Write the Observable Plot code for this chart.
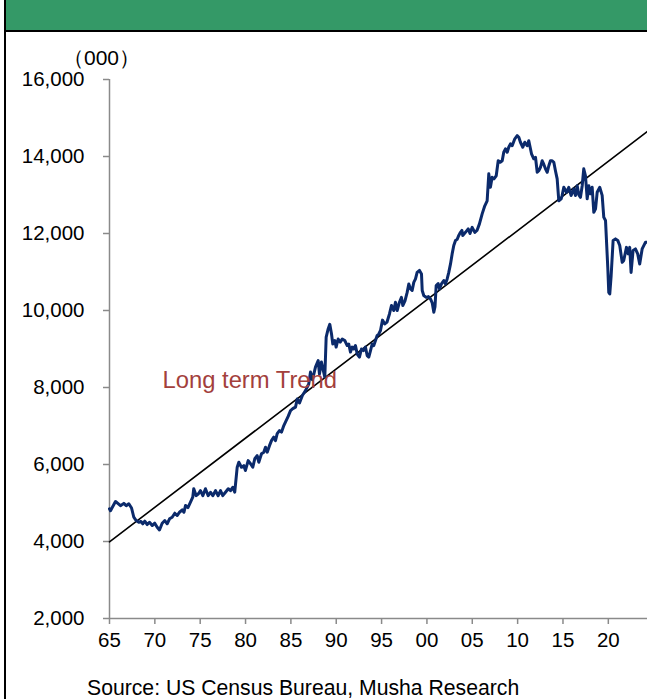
<!DOCTYPE html>
<html>
<head>
<meta charset="utf-8">
<script src="https://cdn.jsdelivr.net/npm/d3@7"></script>
<script src="https://cdn.jsdelivr.net/npm/@observablehq/plot@0.6"></script>
<style>
  html, body { margin: 0; padding: 0; background: #fff; overflow: hidden; }
  #page { position: relative; width: 647px; height: 699px; overflow: hidden; font-family: "Liberation Sans", Arial, sans-serif; }
  #frame { position: absolute; left: 4px; top: -4px; width: 700px; height: 720px; border-left: 2px solid #000; box-sizing: border-box; }
  #header { position: absolute; left: 6px; top: 0; width: 660px; height: 30px; background: #349967; border-bottom: 2px solid #000; }
  #chart { position: absolute; left: 0; top: 0; }
  #unit { position: absolute; left: 51px; width: 101px; top: 46px; text-align: center; font-size: 21px; line-height: 24px; color: #000; }
  #source { position: absolute; left: 87px; top: 677px; font-size: 21.2px; line-height: 21px; color: #000; white-space: nowrap; }
</style>
</head>
<body>
<div id="page">
  <div id="frame"></div>
  <div id="header"></div>
  <div id="chart"></div>
  <div id="unit">（000）</div>
  <div id="source">Source: US Census Bureau, Musha Research</div>
</div>
<script>
// Year-round housing units (thousands)
const years = [
  1965.00,1965.11,1965.66,1966.21,1966.58,1966.84,1967.13,1967.43,1967.68,1967.94,
  1968.23,1968.47,1968.67,1968.89,1969.16,1969.41,1969.71,1969.99,1970.26,1970.51,
  1970.81,1971.10,1971.36,1971.62,1971.91,1972.20,1972.46,1972.72,1973.02,1973.21,
  1973.38,1973.65,1973.93,1974.18,1974.29,1974.56,1974.81,1975.03,1975.29,1975.58,
  1975.88,1976.14,1976.39,1976.69,1976.98,1977.24,1977.49,1977.79,1978.09,1978.34,
  1978.59,1978.81,1979.08,1979.26,1979.55,1979.81,1979.99,1980.29,1980.55,1980.80,
  1981.02,1981.28,1981.46,1981.76,1982.01,1982.20,1982.39,1982.64,1982.86,1983.11,
  1983.30,1983.49,1983.74,1983.96,1984.22,1984.40,1984.70,1984.96,1985.21,1985.51,
  1985.70,1985.95,1986.28,1986.61,1986.97,1987.16,1987.38,1987.71,1988.01,1988.15,
  1988.37,1988.74,1988.89,1989.11,1989.29,1989.48,1989.62,1989.84,1989.99,1990.21,
  1990.44,1990.66,1990.94,1991.21,1991.38,1991.57,1991.76,1991.93,1992.12,1992.31,
  1992.56,1992.78,1993.00,1993.22,1993.41,1993.59,1993.78,1993.96,1994.14,1994.33,
  1994.51,1994.69,1994.88,1995.10,1995.35,1995.60,1995.87,1996.09,1996.35,1996.53,
  1996.72,1996.97,1997.19,1997.34,1997.58,1997.82,1998.00,1998.19,1998.37,1998.55,
  1998.74,1998.92,1999.18,1999.40,1999.48,1999.65,1999.92,2000.17,2000.39,2000.58,
  2000.76,2000.89,2001.02,2001.24,2001.38,2001.60,2001.86,2002.04,2002.23,2002.41,
  2002.60,2002.78,2002.96,2003.15,2003.34,2003.51,2003.70,2003.86,2003.95,2004.25,
  2004.55,2004.75,2004.99,2005.28,2005.52,2005.79,2006.09,2006.38,2006.64,2006.82,
  2007.00,2007.19,2007.39,2007.64,2007.86,2008.08,2008.30,2008.47,2008.66,2008.85,
  2009.02,2009.21,2009.40,2009.69,2009.95,2010.13,2010.31,2010.57,2010.79,2011.05,
  2011.23,2011.53,2011.78,2011.97,2012.16,2012.33,2012.52,2012.71,2012.88,2013.07,
  2013.26,2013.44,2013.62,2013.81,2013.99,2014.17,2014.36,2014.54,2014.80,2014.91,
  2015.09,2015.39,2015.64,2015.90,2016.19,2016.38,2016.57,2016.75,2016.93,2017.12,
  2017.29,2017.48,2017.67,2017.85,2018.04,2018.22,2018.40,2018.59,2018.77,2019.06,
  2019.32,2019.50,2019.69,2019.94,2020.05,2020.16,2020.31,2020.53,2020.79,2021.04,
  2021.26,2021.53,2021.70,2022.00,2022.19,2022.36,2022.51,2022.73,2022.99,2023.24,
  2023.46,2023.73,2024.09,2024.31
];
const units = [
  4850,4800,5040,4930,4990,4930,4980,4870,4630,4545,
  4500,4520,4460,4530,4440,4500,4415,4475,4370,4300,
  4475,4545,4460,4590,4630,4735,4675,4760,4820,4760,
  4935,4880,5020,5150,5370,5190,5240,5320,5190,5370,
  5190,5280,5190,5320,5190,5320,5190,5280,5370,5320,
  5410,5280,5930,6060,5930,5970,5845,6100,6020,5930,
  6150,6230,6060,6280,6320,6450,6320,6490,6620,6710,
  6620,6800,6880,6840,7010,7100,7250,7400,7450,7490,
  7700,7600,7800,7920,8090,8400,8200,8530,8700,8350,
  8660,8270,9310,9520,9640,9390,9130,9220,9050,9260,
  9180,9260,9220,9090,9130,8920,9050,9000,9090,8870,
  8790,9000,8960,9050,8830,8790,8960,9130,9090,9220,
  9350,9390,9480,9750,9650,9700,9910,10130,10000,10215,
  10000,10215,10340,10130,10250,10470,10690,10560,10520,10730,
  10820,10990,11040,10950,10520,10390,10340,10360,10300,10200,
  9955,10100,10650,10700,10560,10690,10780,10690,10820,10990,
  11210,11470,11690,11820,11850,11950,12030,12080,11950,12030,
  12120,12000,12160,12030,12080,12250,12510,12720,12850,13550,
  13200,13460,13420,13500,13890,13850,13890,14110,14200,14110,
  14240,14330,14280,14460,14540,14500,14370,14240,14370,14280,
  14410,14070,13940,13980,13590,13630,13720,13890,13800,13680,
  13590,13760,13890,13890,13850,13630,13420,12850,12900,12990,
  13200,13070,13200,12985,13160,12985,13240,13000,12940,13240,
  13680,13500,12900,13240,13030,13200,12550,12640,13070,13200,
  12990,12420,12340,11120,10470,10430,10900,11820,11860,11820,
  11690,11250,11300,11640,11470,11640,10990,11560,11600,11470,
  11210,11600,11770,11770
];
const trendYears = [1965, 2024.32];
const trendValues = [3990, 14650];
const xTicks = [1965,1970,1975,1980,1985,1990,1995,2000,2005,2010,2015,2020];
const xTickLabels = ["65","70","75","80","85","90","95","00","05","10","15","20"];
const yTicks = [2000,4000,6000,8000,10000,12000,14000,16000];
const annotationText = ["Long term Trend"];
const annotationYear = [1970.84];
const annotationValue = [8180];

const series = years.map((y, i) => ({year: y, value: units[i]}));
const trend = trendYears.map((y, i) => ({year: y, value: trendValues[i]}));
const notes = annotationText.map((t, i) => ({text: t, year: annotationYear[i], value: annotationValue[i]}));

const axisGray = "#8a8a8a";

const chart = Plot.plot({
  width: 647,
  height: 660,
  marginTop: 79,
  marginBottom: 42,
  marginLeft: 109,
  marginRight: 0,
  style: {fontSize: "20.5px", fontFamily: "'Liberation Sans', Arial, sans-serif", background: "transparent", color: "#000"},
  x: {domain: [1965, 2024.32]},
  y: {domain: [2000, 16000]},
  marks: [
    Plot.ruleX([1965], {stroke: axisGray, strokeWidth: 1.5}),
    Plot.ruleY([2000], {stroke: axisGray, strokeWidth: 1.5}),
    Plot.axisY({ticks: yTicks, tickSize: 6, tickPadding: 19, tickFormat: d3.format(","), stroke: axisGray, strokeWidth: 1.5, label: null}),
    Plot.axisX({ticks: xTicks, tickSize: 6, tickPadding: 8, tickFormat: d => xTickLabels[xTicks.indexOf(d)], stroke: axisGray, strokeWidth: 1.5, label: null}),
    Plot.line(trend, {x: "year", y: "value", stroke: "#000", strokeWidth: 1.6}),
    Plot.line(series, {x: "year", y: "value", stroke: "#0b2a6b", strokeWidth: 3, strokeLinejoin: "round"}),
    Plot.text(notes, {x: "year", y: "value", text: "text", textAnchor: "start", fill: "#a3403c", fontSize: 23.8})
  ]
});
document.getElementById("chart").appendChild(chart);
</script>
</body>
</html>
